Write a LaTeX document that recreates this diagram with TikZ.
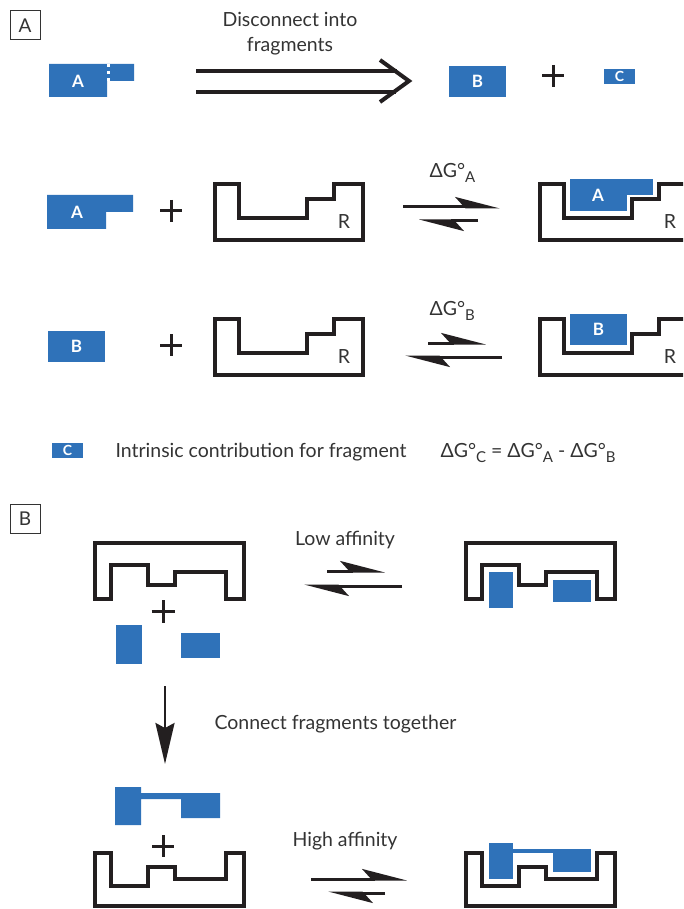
\documentclass[tikz,border=0pt]{standalone}
\usepackage{fontspec}
\setmainfont{Lato}
\usepackage{tikz}
\usetikzlibrary{arrows.meta}
\definecolor{fragblue}{RGB}{47,114,185}
\definecolor{ink}{RGB}{35,31,32}
\definecolor{txt}{RGB}{51,51,51}
\newcommand{\dGo}[1]{ΔG°\raisebox{-5pt}{\fontsize{15}{15}\selectfont #1}}

\begin{document}
\begin{tikzpicture}[x=1pt, y=-1pt,
    frag/.style={fill=fragblue, draw=white, line width=1.2pt},
    fragbox/.style={frag, inner sep=0pt, text=white, font=\fontsize{17}{17}\selectfont\bfseries},
    fragtext/.style={text=white, font=\fontsize{17}{17}\selectfont\bfseries},
    recep/.style={draw=ink, line width=3.5pt, line join=miter},
    eqarrow/.style={draw=ink, line width=3pt, -{Stealth[harpoon, length=39pt, width=20pt, inset=9pt]}},
    lbl/.style={text=txt, font=\fontsize{19.5}{25}\selectfont},
    panelbox/.style={draw=txt, line width=1pt, minimum width=30pt, minimum height=29pt, inner sep=0pt, text=txt, font=\fontsize{19}{19}\selectfont},
    plus/.style={draw=ink, line width=3pt}]
    \useasboundingbox (0,0) rectangle (683,909);
    \clip (0,0) rectangle (683,909);

    \node[panelbox] (boxA) at (25,25.5) {A};
    \node[lbl, align=center] (disc) at (290,34) {Disconnect into\\fragments};

    \fill[fragblue] (49,64) -- (134,64) -- (134,81) -- (107,81) -- (107,97) -- (49,97) -- cycle;
    \draw[white, line width=3pt, dash pattern=on 3pt off 4pt] (108.5,64) -- (108.5,81);
    \node[fragtext] (topA) at (78,81) {A};

    \coordinate (dis1) at (196,71);
    \coordinate (dis2) at (397,71);
    \coordinate (dis3) at (196,92);
    \coordinate (dis4) at (396,92);
    \coordinate (disTip) at (409,81);
    \draw[ink, line width=4pt] (dis1) -- (dis2);
    \draw[ink, line width=4pt] (dis3) -- (dis4);
    \draw[ink, line width=4pt, line join=miter] (380,60) -- (disTip) -- (380,102);

    \node[fragbox, minimum width=59pt, minimum height=33pt] (topB) at (477.5,81.5) {B};
    \draw[plus] (553,65) -- (553,87) (542,76) -- (564,76);
    \node[fragbox, minimum width=33pt, minimum height=17pt, font=\fontsize{14}{14}\selectfont\bfseries] (topC) at (619.5,76.5) {C};

    \fill[fragblue] (47,195) -- (133,195) -- (133,212) -- (106,212) -- (106,229) -- (47,229) -- cycle;
    \node[fragtext] (rowA) at (77,212) {A};
    \draw[plus] (171,200) -- (171,222) (160,211) -- (182,211);
    \foreach \sx/\sy in {215/184, 540/184, 215/319, 540/319} {
        \begin{scope}[shift={(\sx,\sy)}]
            \draw[recep] (0,0) -- (24,0) -- (24,34) -- (92,34) -- (92,15) -- (119,15) -- (119,0) -- (148,0) -- (148,56) -- (0,56) -- cycle;
        \end{scope}
    }
    \node[lbl] (rA1) at (344,222) {R};
    \node[lbl] (rA2) at (670,222) {R};
    \node[lbl] (rB1) at (344,357) {R};
    \node[lbl] (rB2) at (670,357) {R};

    \node[lbl, anchor=base west] (dgA) at (426,178) {\dGo{A}};
    \coordinate (eqA1) at (403,207);
    \coordinate (eqA2) at (500,207);
    \coordinate (eqA3) at (478,221);
    \coordinate (eqA4) at (419,221);
    \draw[eqarrow] (eqA1) -- (eqA2);
    \draw[eqarrow] (eqA3) -- (eqA4);

    \draw[frag] (569,178) -- (654,178) -- (654,196) -- (628,196) -- (628,212) -- (569,212) -- cycle;
    \node[fragtext] (cplxA) at (598,195) {A};

    \node[fragbox, minimum width=59pt, minimum height=33pt] (rowB) at (76.5,346.5) {B};
    \draw[plus] (171,334) -- (171,356) (160,345) -- (182,345);

    \node[lbl, anchor=base west] (dgB) at (426,315) {\dGo{B}};
    \coordinate (eqB1) at (428,343);
    \coordinate (eqB2) at (486,343);
    \coordinate (eqB3) at (502,357);
    \coordinate (eqB4) at (405,357);
    \draw[eqarrow] (eqB1) -- (eqB2);
    \draw[eqarrow] (eqB3) -- (eqB4);

    \node[fragbox, minimum width=59pt, minimum height=33pt] (cplxB) at (598.5,329.5) {B};

    \node[fragbox, minimum width=33pt, minimum height=17pt, font=\fontsize{14}{14}\selectfont\bfseries] (rowC) at (67.5,450.5) {C};
    \node[lbl, anchor=base west] (intr) at (112,457) {Intrinsic contribution for fragment};
    \node[lbl, anchor=base west] (eqn) at (437,457) {\dGo{C} = \dGo{A} - \dGo{B}};

    \node[panelbox] (boxB) at (25,518.5) {B};
    \foreach \sx in {0, 371} {
        \begin{scope}[shift={(\sx,0)}]
            \draw[recep] (95,599) -- (95,543) -- (244,543) -- (244,599) -- (226,599) -- (226,572) -- (175,572) -- (175,585) -- (148,585) -- (148,565) -- (111,565) -- (111,599) -- cycle;
            \draw[recep] (95,853) -- (95,906) -- (244,906) -- (244,853) -- (226,853) -- (226,879) -- (175,879) -- (175,867) -- (148,867) -- (148,886) -- (111,886) -- (111,853) -- cycle;
        \end{scope}
    }

    \draw[plus] (163,600) -- (163,623) (151.5,611.5) -- (174.5,611.5);
    \fill[fragblue] (116,625) rectangle (142,664);
    \fill[fragblue] (181,633) rectangle (220,658);

    \node[lbl, anchor=base] (low) at (345,545) {Low affinity};
    \coordinate (lo1) at (327,571);
    \coordinate (lo2) at (385,571);
    \coordinate (lo3) at (402,586);
    \coordinate (lo4) at (304,586);
    \draw[eqarrow] (lo1) -- (lo2);
    \draw[eqarrow] (lo3) -- (lo4);

    \draw[frag] (488,571) rectangle (514,609);
    \draw[frag] (552,579) rectangle (592,603);

    \coordinate (dn1) at (165,686);
    \coordinate (dn2) at (165,764);
    \draw[ink, line width=2.5pt, -{Stealth[length=41pt, width=19pt, inset=5pt]}] (dn1) -- (dn2);
    \node[lbl, anchor=base west] (conn) at (211,729) {Connect fragments together};

    \fill[fragblue] (115,787) -- (141,787) -- (141,793) -- (220,793) -- (220,818) -- (181,818) -- (181,799) -- (141,799) -- (141,825) -- (115,825) -- cycle;
    \draw[plus] (163,835) -- (163,857) (152,846) -- (174,846);

    \node[lbl, anchor=base] (high) at (345,846) {High affinity};
    \coordinate (hi1) at (311,879);
    \coordinate (hi2) at (407,879);
    \coordinate (hi3) at (385,893);
    \coordinate (hi4) at (328,893);
    \draw[eqarrow] (hi1) -- (hi2);
    \draw[eqarrow] (hi3) -- (hi4);

    \draw[frag] (488,842) -- (514,842) -- (514,848) -- (592,848) -- (592,873) -- (552,873) -- (552,854) -- (514,854) -- (514,880) -- (488,880) -- cycle;
\end{tikzpicture}
\end{document}
